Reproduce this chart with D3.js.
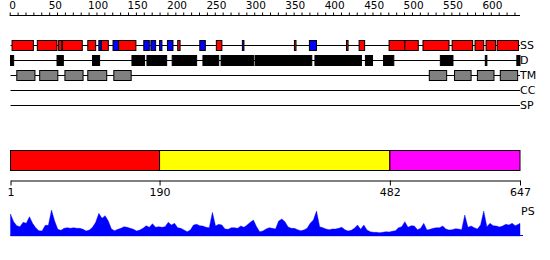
<!DOCTYPE html>
<html>
<head>
<meta charset="utf-8">
<script src="https://cdn.jsdelivr.net/npm/d3@7"></script>
<style>
  body { margin: 0; background: #fff; }
  svg { display: block; font-family: "DejaVu Sans", sans-serif; }
</style>
</head>
<body>
<svg id="chart"></svg>
<script>
// protein length and residue ranges
const seqLength = 647;

const ssHelix = [[3,30],[35,60],[62,66],[67,92],[99,109],[116,125],[138,160],[213,216],
  [262,269],[361,363],[427,429],[443,450],[481,501],[501,518],[524,557],[561,587],
  [590,601],[604,616],[618,645]];
const ssStrand = [[113,116],[131,138],[170,177],[179,185],[190,193],[200,207],[241,248],
  [295,297],[380,389]];
const disorder = [[1,5],[60,68],[105,114],[155,171],[174,199],[206,237],[245,265],[268,309],
  [311,383],[387,446],[451,460],[474,487],[546,562],[603,605],[643,647]];
const tmSegments = [[9,32],[38,61],[70,93],[99,123],[132,154],[532,554],[564,585],[593,614],[622,644]];
const coiledCoil = [];
const signalPeptide = [];

const trackNames = ['SS', 'D', 'TM', 'CC', 'SP'];

const domainRanges = [[1,190],[190,482],[482,647]];
const domainTicks = [1, 190, 482, 647];

// PS score, one value every 4 residues starting at residue 1
const psStep = 4;
const psScores = [63,40,28,25,38,35,55,35,22,13,12,29,29,75,42,17,14,20,22,20,
  22,20,20,17,12,15,23,38,65,50,58,42,18,13,17,20,25,23,20,17,
  12,15,20,28,23,34,23,25,23,25,38,30,35,22,20,15,10,15,30,32,
  28,27,23,22,68,27,32,30,18,17,22,22,20,27,23,30,38,45,25,10,
  12,18,22,20,18,42,48,40,24,20,20,16,13,15,20,35,45,72,25,22,
  18,16,18,18,20,23,16,12,14,20,30,17,30,15,10,8,8,7,8,10,
  9,11,13,22,25,40,23,28,27,16,20,35,15,17,20,22,22,27,18,15,
  16,19,18,16,60,23,27,22,18,30,72,25,35,28,27,24,27,32,30,35,
  28,32,35];

const domainColors = ['#ff0000', '#ffff00', '#ff00ff'];

class ProteinPlot {

    constructor( config ) {
        this.config = {
            parent: config.parent,
            width: config.width || 550,
            height: config.height || 260
        };
        this.init();
    }

    init() {
        let self = this;

        self.svg = d3.select( self.config.parent )
            .attr('width', self.config.width)
            .attr('height', self.config.height);

        self.xscale = d3.scaleLinear()
            .domain([1, seqLength])
            .range([10.5, 520]);

        self.trackY = { SS: 45.5, D: 60.5, TM: 75.5, CC: 90.5, SP: 105.5 };

        self.psY = d3.scaleLinear()
            .domain([0, 84])
            .range([235, 207]);
    }

    boxes( data, y, h, fill ) {
        let self = this;
        self.svg.append('g').selectAll('rect').data(data).join('rect')
            .attr('x', d => self.xscale(d[0]))
            .attr('y', y - h / 2)
            .attr('width', d => self.xscale(d[1]) - self.xscale(d[0]))
            .attr('height', h)
            .attr('fill', fill)
            .attr('stroke', 'black')
            .attr('stroke-width', 1);
    }

    render() {
        let self = this;
        const x = self.xscale;

        // top ruler
        const topAxis = d3.axisTop(x)
            .tickValues(d3.range(0, 641, 10))
            .tickSize(3)
            .tickSizeOuter(0)
            .tickPadding(4)
            .tickFormat(d => d % 50 === 0 ? d : '');
        const topG = self.svg.append('g')
            .attr('transform', 'translate(0, 15.5)')
            .call(topAxis);
        topG.select('.domain').attr('d', `M${x(0)},0H520`);
        topG.selectAll('text')
            .attr('text-anchor', 'start')
            .attr('x', -1)
            .attr('font-family', '"DejaVu Sans", sans-serif')
            .attr('font-size', 10.5)
            .attr('fill', 'black');

        // track base lines and labels
        trackNames.forEach(name => {
            const y = self.trackY[name];
            self.svg.append('line')
                .attr('x1', x(1)).attr('x2', x(seqLength))
                .attr('y1', y).attr('y2', y)
                .attr('stroke', 'black');
            self.svg.append('text')
                .attr('x', 520)
                .attr('y', y)
                .attr('dy', '0.36em')
                .attr('font-size', 11)
                .text(name);
        });

        self.boxes(ssHelix, self.trackY.SS, 10, '#ff0000');
        self.boxes(ssStrand, self.trackY.SS, 10, '#0000ff');
        self.boxes(disorder, self.trackY.D, 10, '#000000');
        self.boxes(tmSegments, self.trackY.TM, 10, '#808080');
        self.boxes(coiledCoil, self.trackY.CC, 10, '#00aa00');
        self.boxes(signalPeptide, self.trackY.SP, 10, '#ffa500');

        // domain bar
        self.svg.append('g').selectAll('rect').data(domainRanges).join('rect')
            .attr('x', d => x(d[0]))
            .attr('y', 150.5)
            .attr('width', d => x(d[1]) - x(d[0]))
            .attr('height', 20)
            .attr('fill', (d, i) => domainColors[i])
            .attr('stroke', 'black');

        const bottomAxis = d3.axisBottom(x)
            .tickValues(domainTicks)
            .tickSize(5)
            .tickSizeOuter(0)
            .tickPadding(3);
        const botG = self.svg.append('g')
            .attr('transform', 'translate(0, 180.5)')
            .call(bottomAxis);
        botG.selectAll('text')
            .attr('font-family', '"DejaVu Sans", sans-serif')
            .attr('font-size', 11)
            .attr('fill', 'black');

        // PS profile
        const area = d3.area()
            .x((d, i) => x(Math.min(seqLength, 1 + i * psStep)))
            .y0(self.psY(0) + 1)
            .y1(d => self.psY(d));
        self.svg.append('path')
            .attr('d', area(psScores))
            .attr('fill', '#0000ff')
            .attr('stroke', '#0000ff')
            .attr('stroke-width', 0.4);

        self.svg.append('line')
            .attr('x1', x(1)).attr('x2', 523)
            .attr('y1', self.psY(0) + 0.5).attr('y2', self.psY(0) + 0.5)
            .attr('stroke', '#0000ff');

        self.svg.append('text')
            .attr('x', 521)
            .attr('y', 215)
            .attr('font-size', 11)
            .text('PS');
    }
}

const plot = new ProteinPlot({ parent: '#chart', width: 550, height: 260 });
plot.render();
</script>
</body>
</html>
